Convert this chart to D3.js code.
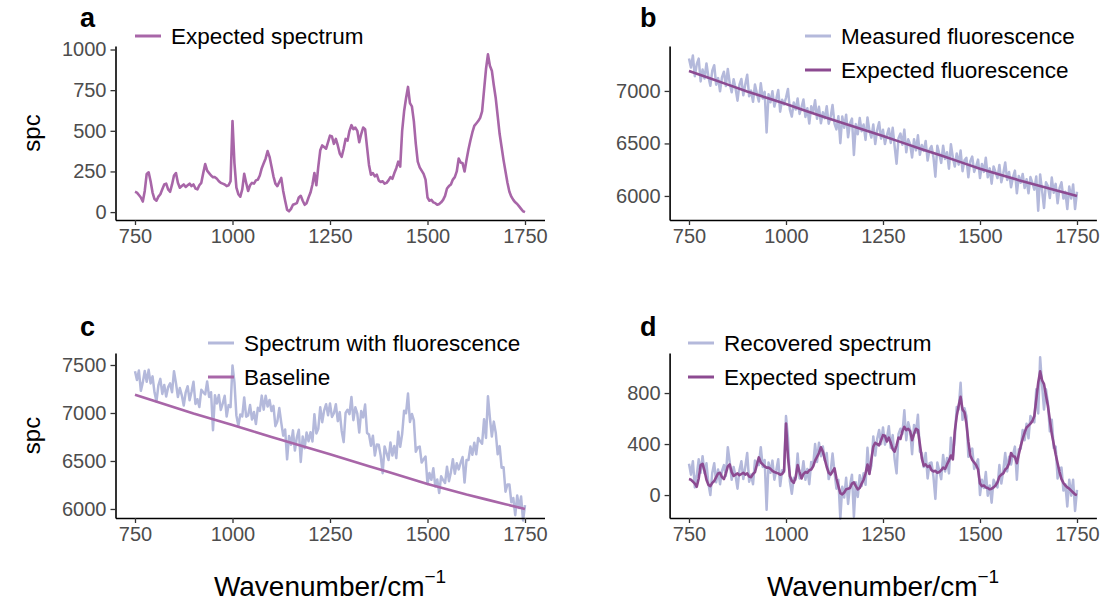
<!DOCTYPE html>
<html>
<head>
<meta charset="utf-8">
<script src="https://cdn.jsdelivr.net/npm/d3@7"></script>
<style>
  body { margin: 0; background: #fff; }
  svg { font-family: "Liberation Sans", Arial, sans-serif; }
</style>
</head>
<body>
<svg id="chart" width="1111" height="607"></svg>
<script>
// wavenumber grid of the spectra (cm^-1)
const wavenumbers = d3.range(750, 1751, 5);

// expected Raman spectrum, one value per grid point
const expectedSpectrum = [
  125, 120, 105, 90, 65, 130, 235, 245, 190, 120,
  80, 70, 95, 110, 140, 170, 175, 140, 125, 170,
  225, 240, 180, 150, 160, 170, 155, 165, 175, 160,
  170, 145, 140, 165, 180, 240, 295, 255, 240, 225,
  215, 215, 205, 190, 180, 175, 170, 160, 165, 190,
  560, 300, 150, 110, 95, 140, 235, 180, 130, 165,
  180, 175, 195, 200, 225, 270, 300, 330, 375, 340,
  280, 220, 175, 160, 185, 210, 130, 70, 15, 5,
  20, 45, 50, 55, 90, 100, 70, 45, 55, 90,
  120, 170, 240, 165, 280, 380, 410, 400, 390, 430,
  470, 465, 420, 450, 410, 360, 340, 390, 450, 440,
  500, 535, 510, 520, 500, 430, 480, 520, 510, 400,
  290, 230, 240, 220, 230, 195, 185, 190, 175, 180,
  195, 215, 205, 240, 270, 310, 280, 500, 620, 700,
  770, 670, 650, 560, 420, 310, 275, 255, 235, 200,
  90, 70, 75, 60, 55, 45, 50, 60, 75, 100,
  145, 160, 170, 200, 215, 250, 330, 305, 300, 250,
  320, 385, 440, 490, 530, 545, 560, 580, 620, 750,
  880, 970, 900, 870, 780, 700, 590, 480, 400, 320,
  250, 180, 125, 95, 75, 60, 50, 35, 20, 5,
  0
];

// measurement noise, read as measured minus expected fluorescence
const noise = [
  120, 40, 160, -30, 90, 150, -60, 60, -20, 130,
  10, -70, 80, 140, -40, 30, -90, 50, 110, -20,
  150, 20, -60, 70, -10, -120, 40, 100, -50, 60,
  160, -40, 20, -80, 90, 10, -60, 120, -20, 50,
  -330, 40, -30, 80, -60, 20, 110, -90, 30, -10,
  60, 150, -40, -100, 40, -20, 90, -50, 20, 100,
  -60, 30, -110, 60, 10, 130, -40, 80, -70, 40,
  -10, 110, -50, 20, 140, -30, -80, 50, -200, 60,
  -40, 90, -120, 20, 70, -270, 30, -60, 100, -20,
  50, -90, 130, 10, -50, 80, -100, 40, 120, -30,
  60, -70, 20, 90, -40, 110, -60, -220, 30, 80,
  -20, 130, -80, 50, 10, -110, 70, -30, 120, -60,
  40, -10, 90, -90, 20, 60, -40, -220, 80, 10,
  -70, 100, -20, 50, -100, 140, 20, -60, 70, -30,
  110, -80, 30, 60, -120, 40, 90, -50, 10, 80,
  -90, 50, -20, 120, -60, 30, -110, 60, 10, -40,
  90, -70, 20, 130, -30, 50, -90, 10, 80, -130,
  40, -20, 70, -60, 30, -100, 60, 10, -50, 80,
  -240, 110, -40, -200, 50, 20, -90, 110, -30, 60,
  -120, 30, 90, -60, 10, -150, 70, -40, 100, -130,
  40
];

// expected fluorescence background / baseline
const baselineWn = [750, 800, 850, 900, 950, 1000, 1050, 1100, 1150, 1200, 1250,
  1300, 1350, 1400, 1450, 1500, 1550, 1600, 1650, 1700, 1750];
const baselineVal = [7190, 7125, 7060, 6995, 6935, 6875, 6812, 6750, 6690, 6630, 6570,
  6508, 6445, 6385, 6322, 6260, 6205, 6150, 6100, 6050, 6000];

const xTicks = [750, 1000, 1250, 1500, 1750];

const baselineAt = d3.scaleLinear().domain(baselineWn).range(baselineVal);
const spectrumData = wavenumbers.map((w, i) => ({ x: w, y: expectedSpectrum[i] }));
const baselineData = baselineWn.map((w, i) => ({ x: w, y: baselineVal[i] }));
const measuredData = wavenumbers.map((w, i) => ({ x: w, y: baselineAt(w) + noise[i] }));
const withFluorData = wavenumbers.map((w, i) => ({ x: w, y: baselineAt(w) + expectedSpectrum[i] + noise[i] }));
const recoveredData = wavenumbers.map((w, i) => ({ x: w, y: expectedSpectrum[i] + noise[i] }));

const LIGHT = "#b4b9db";
const PURPLE_A = "#a866a8";
const PURPLE_B = "#8c4a91";

const svg = d3.select("#chart");

function drawPanel(p) {
  const x = d3.scaleLinear().domain([700, 1800]).range(p.xRange);
  const y = d3.scaleLinear().domain(p.yDomain).range(p.yRange);
  const g = svg.append("g");

  const line = d3.line().x(d => x(d.x)).y(d => y(d.y));
  p.series.forEach(s => {
    g.append("path")
      .datum(s.data)
      .attr("fill", "none")
      .attr("stroke", s.color)
      .attr("stroke-width", s.width)
      .attr("stroke-linejoin", "round")
      .attr("d", line);
  });

  // axes
  const xAxis = g.append("g")
    .attr("transform", "translate(0," + p.yRange[0] + ")")
    .call(d3.axisBottom(x).tickValues(xTicks).tickFormat(d3.format("d"))
      .tickSize(5).tickSizeOuter(0).tickPadding(4));
  const yAxis = g.append("g")
    .attr("transform", "translate(" + p.xRange[0] + ",0)")
    .call(d3.axisLeft(y).tickValues(p.yTicks).tickFormat(d3.format("d"))
      .tickSize(5).tickSizeOuter(0).tickPadding(4));
  [xAxis, yAxis].forEach(a => {
    a.select(".domain").attr("stroke", "#000").attr("stroke-width", 1.6);
    a.selectAll(".tick line").attr("stroke", "#333").attr("stroke-width", 1.3);
    a.selectAll(".tick text")
      .attr("fill", "#4d4d4d")
      .attr("font-size", "20px")
      .attr("font-family", "Liberation Sans, Arial, sans-serif");
  });

  // panel letter
  svg.append("text")
    .attr("x", p.letterPos[0])
    .attr("y", p.letterPos[1])
    .attr("font-size", "27px")
    .attr("font-weight", "bold")
    .text(p.letter);

  // legend
  p.legend.forEach((l, i) => {
    const ly = p.legendPos[1] + i * 34;
    svg.append("line")
      .attr("x1", p.legendPos[0]).attr("x2", p.legendPos[0] + 26)
      .attr("y1", ly).attr("y2", ly)
      .attr("stroke", l.color).attr("stroke-width", 3);
    svg.append("text")
      .attr("x", p.legendPos[0] + 36)
      .attr("y", ly)
      .attr("dy", "0.36em")
      .attr("font-size", "22.5px")
      .attr("fill", "#000")
      .text(l.label);
  });

  if (p.yLabel) {
    const cy = (p.yRange[0] + p.yRange[1]) / 2;
    svg.append("text")
      .attr("transform", "translate(40," + cy + ") rotate(-90)")
      .attr("text-anchor", "middle")
      .attr("font-size", "24px")
      .text("spc");
  }
  if (p.xLabel) {
    const cx = (p.xRange[0] + p.xRange[1]) / 2;
    const t = svg.append("text")
      .attr("x", cx)
      .attr("y", 596)
      .attr("text-anchor", "middle")
      .attr("font-size", "28px");
    t.append("tspan").text("Wavenumber/cm");
    t.append("tspan").attr("font-size", "19px").attr("dy", -13).text("\u22121");
  }
}

const LEFT = [115.5, 544.5];
const RIGHT = [669.6, 1096.4];

drawPanel({
  letter: "a", letterPos: [80, 27],
  xRange: LEFT, yRange: [220, 46], yDomain: [-48.6, 1021.6],
  yTicks: [0, 250, 500, 750, 1000],
  series: [{ data: spectrumData, color: PURPLE_A, width: 2.6 }],
  legend: [{ label: "Expected spectrum", color: PURPLE_A }],
  legendPos: [135, 36], yLabel: true
});

drawPanel({
  letter: "b", letterPos: [640, 27],
  xRange: RIGHT, yRange: [220, 46], yDomain: [5771, 7428],
  yTicks: [6000, 6500, 7000],
  series: [
    { data: measuredData, color: LIGHT, width: 2.5 },
    { data: baselineData, color: PURPLE_B, width: 2.6 }
  ],
  legend: [
    { label: "Measured fluorescence", color: LIGHT },
    { label: "Expected fluorescence", color: PURPLE_B }
  ],
  legendPos: [805, 36]
});

drawPanel({
  letter: "c", letterPos: [80, 336],
  xRange: LEFT, yRange: [518, 353], yDomain: [5906, 7625],
  yTicks: [6000, 6500, 7000, 7500],
  series: [
    { data: withFluorData, color: LIGHT, width: 2.5 },
    { data: baselineData, color: PURPLE_A, width: 2.6 }
  ],
  legend: [
    { label: "Spectrum with fluorescence", color: LIGHT },
    { label: "Baseline", color: PURPLE_A }
  ],
  legendPos: [208, 343], yLabel: true, xLabel: true
});

drawPanel({
  letter: "d", letterPos: [640, 336],
  xRange: RIGHT, yRange: [518, 353], yDomain: [-180, 1114],
  yTicks: [0, 400, 800],
  series: [
    { data: recoveredData, color: LIGHT, width: 2.5 },
    { data: spectrumData, color: PURPLE_B, width: 2.6 }
  ],
  legend: [
    { label: "Recovered spectrum", color: LIGHT },
    { label: "Expected spectrum", color: PURPLE_B }
  ],
  legendPos: [688, 343], xLabel: true
});
</script>
</body>
</html>
